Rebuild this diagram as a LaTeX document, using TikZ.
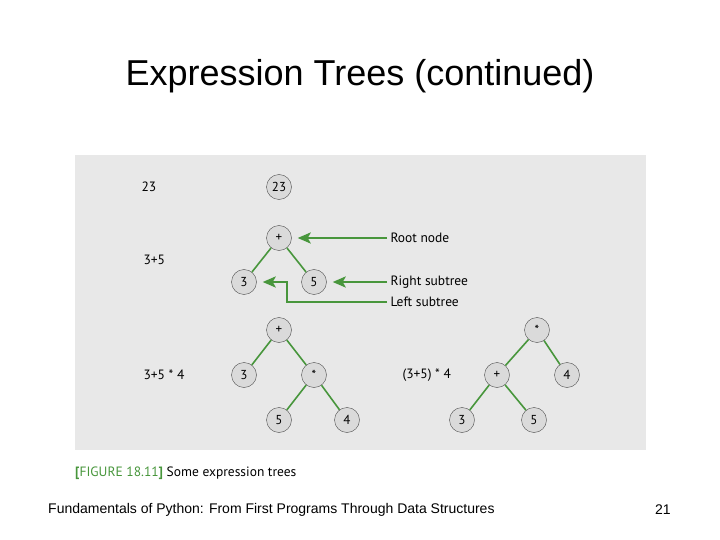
\documentclass[tikz,border=0pt]{standalone}
\usepackage{fontspec}
\setmainfont{Liberation Sans}
\newfontfamily\figfont{PT Sans}
\usetikzlibrary{arrows.meta}
\definecolor{panelgray}{RGB}{232,232,232}
\definecolor{nodegray}{RGB}{218,218,218}
\definecolor{treegreen}{RGB}{72,150,60}

\begin{document}
\begin{tikzpicture}[x=1pt,y=-1pt,
  tnode/.style={circle,draw=black!70,fill=nodegray,minimum size=25pt,inner sep=0pt,font=\figfont\fontsize{13}{15}\selectfont},
  edge/.style={treegreen,line width=1.6pt},
  pointer/.style={treegreen,line width=2.6pt,-{Stealth[length=13pt,width=11pt,inset=3pt]}},
  lbl/.style={font=\figfont\fontsize{13.5}{16}\selectfont,anchor=west}]
\useasboundingbox (0,0) rectangle (720,540);
\node[font=\fontsize{36}{40}\selectfont] (title) at (360,76) {Expression Trees (continued)};
\fill[panelgray] (75,155) rectangle (646,450);
% single value
\node[lbl] (e23) at (138,187) {23};
\node[tnode] (n23) at (279,187) {23};
% 3+5
\node[lbl] (e35) at (140,260) {3+5};
\node[tnode] (a) at (279,238) {+};
\node[tnode] (al) at (244,282) {3};
\node[tnode] (ar) at (314,282) {5};
\draw[edge] (a) -- (al);
\draw[edge] (a) -- (ar);
\node[lbl] (root) at (387,238) {Root node};
\node[lbl] (rsub) at (387,282) {Right subtree};
\node[lbl] (lsub) at (387,302) {Left subtree};
\coordinate (bend) at (287,302);
\draw[pointer] (root.west) -- ([xshift=6pt]a.east);
\draw[pointer] (rsub.west) -- ([xshift=6pt]ar.east);
\draw[pointer] (lsub.west) -- (bend) |- ([xshift=6pt]al.east);
% 3+5*4
\node[lbl] (e354) at (140,375) {3+5 * 4};
\node[tnode] (b) at (279,330) {+};
\node[tnode] (bl) at (244,375) {3};
\node[tnode] (br) at (314,375) {*};
\node[tnode] (brl) at (279,420) {5};
\node[tnode] (brr) at (347,420) {4};
\draw[edge] (b) -- (bl);
\draw[edge] (b) -- (br);
\draw[edge] (br) -- (brl);
\draw[edge] (br) -- (brr);
% (3+5)*4
\node[lbl] (e354p) at (399,375) {(3+5) * 4};
\node[tnode] (c) at (537,330) {*};
\node[tnode] (cl) at (497,375) {+};
\node[tnode] (cr) at (567,375) {4};
\node[tnode] (cll) at (462,420) {3};
\node[tnode] (clr) at (534,420) {5};
\draw[edge] (c) -- (cl);
\draw[edge] (c) -- (cr);
\draw[edge] (cl) -- (cll);
\draw[edge] (cl) -- (clr);
% caption and footer
\node[lbl,inner sep=0pt] (cap) at (75,473) {\textcolor{treegreen}{\textbf{[}FIGURE 18.11\textbf{]}} Some expression trees};
\node[anchor=west,inner sep=0pt,font=\fontsize{14}{16}\selectfont] (foot) at (48,510) {Fundamentals of Python: From First Programs Through Data Structures};
\node[anchor=west,inner sep=0pt,font=\fontsize{14}{16}\selectfont] (page) at (655,510) {21};
\end{tikzpicture}
\end{document}
